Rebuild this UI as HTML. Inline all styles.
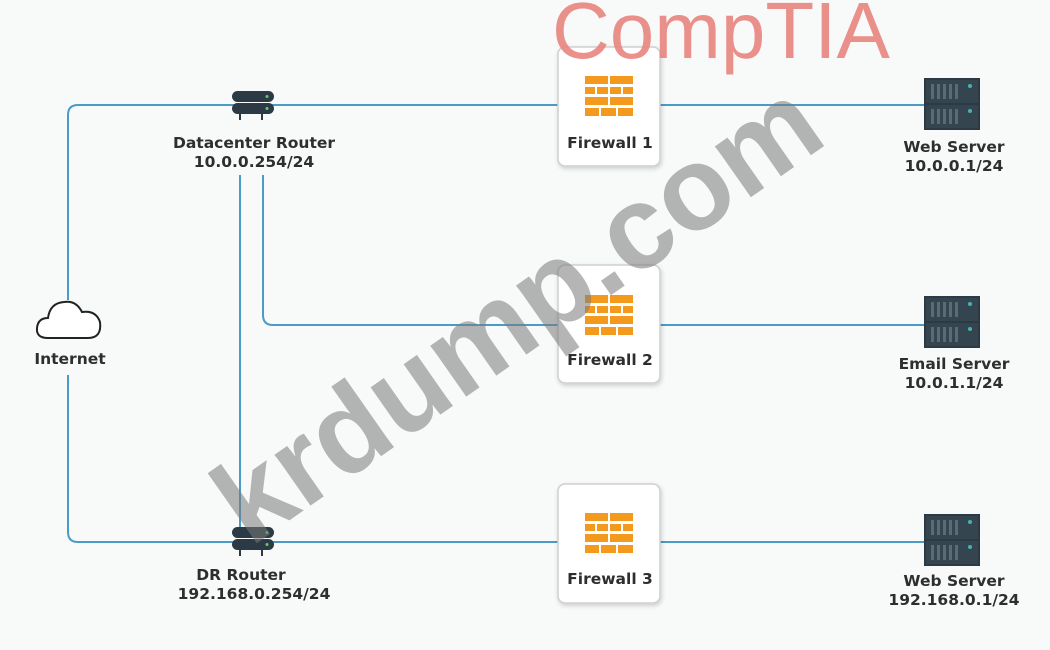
<!DOCTYPE html>
<html><head><meta charset="utf-8"><style>
html,body{margin:0;padding:0;background:#f8fafa;}
svg{display:block;font-family:"DejaVu Sans","Liberation Sans",sans-serif;}
.l{font-size:15.5px;font-weight:bold;fill:#2e2e2e;text-anchor:middle;}
</style></head><body>
<svg width="1050" height="650" viewBox="0 0 1050 650" xmlns="http://www.w3.org/2000/svg">
<defs>
<filter id="sh" x="-20%" y="-20%" width="140%" height="140%"><feDropShadow dx="1" dy="2" stdDeviation="2" flood-color="#000" flood-opacity="0.18"/></filter>
<g id="fw">
 <rect x="0" y="0" width="48" height="40" fill="#fff"/>
 <g fill="#f39a1e">
  <rect x="0" y="0" width="23" height="8"/><rect x="25" y="0" width="23" height="8"/>
  <rect x="0" y="11" width="10" height="7"/><rect x="12" y="11" width="11" height="7"/><rect x="25" y="11" width="11" height="7"/><rect x="38" y="11" width="10" height="7"/>
  <rect x="0" y="21" width="23" height="8"/><rect x="25" y="21" width="23" height="8"/>
  <rect x="0" y="32" width="14" height="8"/><rect x="16" y="32" width="15" height="8"/><rect x="33" y="32" width="15" height="8"/>
 </g>
</g>
<g id="srv">
 <rect x="0" y="0" width="56" height="52" fill="#2b3a44"/>
 <rect x="2" y="2" width="52" height="23" fill="#34454f"/><rect x="2" y="27" width="52" height="23" fill="#34454f"/>
 <g fill="#5b6b75"><rect x="7" y="6" width="3" height="15"/><rect x="13" y="6" width="3" height="15"/><rect x="19" y="6" width="3" height="15"/><rect x="25" y="6" width="3" height="15"/><rect x="31" y="6" width="3" height="15"/>
 <rect x="7" y="31" width="3" height="15"/><rect x="13" y="31" width="3" height="15"/><rect x="19" y="31" width="3" height="15"/><rect x="25" y="31" width="3" height="15"/><rect x="31" y="31" width="3" height="15"/></g>
 <circle cx="46" cy="8" r="2" fill="#4ab0b8"/><circle cx="46" cy="33" r="2" fill="#4ab0b8"/>
</g>
<g id="rtr">
 <rect x="-21" y="0" width="42" height="11" rx="5.5" fill="#2b3a44"/>
 <rect x="-21" y="12" width="42" height="11" rx="5.5" fill="#2b3a44"/>
 <circle cx="14" cy="5.5" r="1.5" fill="#6c6"/><circle cx="14" cy="17.5" r="1.5" fill="#6c6"/>
 <rect x="-14" y="23" width="2" height="6" fill="#2b3a44"/><rect x="8" y="23" width="2" height="6" fill="#2b3a44"/>
</g>
</defs>
<g stroke="#4a9bc6" stroke-width="2" fill="none">
 <path d="M68 300 V115 Q68 105 78 105 H925"/>
 <path d="M68 375 V532 Q68 542 78 542 H925"/>
 <path d="M240 175 V530"/>
 <path d="M263 175 V315 Q263 325 273 325 H925"/>
</g>
<path d="M48 338 Q36 338 37 328 Q38 318 48 318 Q50 303 64 302 Q76 300 82 312 Q96 310 100 322 Q102 338 88 338 Z" fill="#fff" stroke="#222" stroke-width="2"/>
<text class="l" x="70" y="364">Internet</text>
<use href="#rtr" x="253" y="91"/>
<text class="l" x="254" y="148">Datacenter Router</text>
<text class="l" x="254" y="167">10.0.0.254/24</text>
<use href="#rtr" x="253" y="527"/>
<text class="l" x="241" y="580">DR Router</text>
<text class="l" x="254" y="599">192.168.0.254/24</text>
<g filter="url(#sh)" fill="#fff" stroke="#cfcfcf" stroke-width="1.5">
 <rect x="558" y="47" width="102" height="119" rx="7"/>
 <rect x="558" y="265" width="102" height="118" rx="7"/>
 <rect x="558" y="484" width="102" height="119" rx="7"/>
</g>
<use href="#fw" x="585" y="76"/><text class="l" x="610" y="148">Firewall 1</text>
<use href="#fw" x="585" y="295"/><text class="l" x="610" y="365">Firewall 2</text>
<use href="#fw" x="585" y="513"/><text class="l" x="610" y="584">Firewall 3</text>
<use href="#srv" x="924" y="78"/><text class="l" x="954" y="152">Web Server</text><text class="l" x="954" y="171">10.0.0.1/24</text>
<use href="#srv" x="924" y="296"/><text class="l" x="954" y="369">Email Server</text><text class="l" x="954" y="388">10.0.1.1/24</text>
<use href="#srv" x="924" y="514"/><text class="l" x="954" y="586">Web Server</text><text class="l" x="954" y="605">192.168.0.1/24</text>
<text x="552" y="58" font-family="Liberation Sans, sans-serif" font-size="80" fill="#e9857f" opacity="0.9">CompTIA</text>
<text x="0" y="0" transform="translate(250,548) rotate(-35)" font-family="Liberation Sans, sans-serif" font-weight="bold" font-size="118" fill="#7a7a7a" opacity="0.55">krdump.com</text>
</svg>
</body></html>
